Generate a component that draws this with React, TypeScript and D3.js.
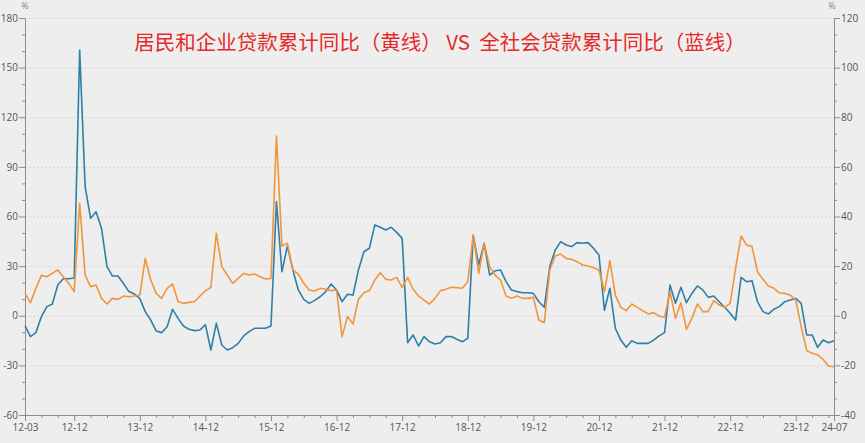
import { useEffect, useRef } from 'react';
import * as d3 from 'd3';

// monthly, 2012-03 .. 2024-07
const startMonth = new Date(2012, 2, 1);
const endMonth = new Date(2024, 7, 1);
const months = d3.timeMonth.range(startMonth, endMonth).map(d3.timeFormat('%y-%m'));

const xTickLabels = ['12-03', '12-12', '13-12', '14-12', '15-12', '16-12', '17-12', '18-12', '19-12', '20-12', '21-12', '22-12', '23-12', '24-07'];
const leftTicks = [-60, -30, 0, 30, 60, 90, 120, 150, 180];
const rightTicks = [-40, -20, 0, 20, 40, 60, 80, 100, 120];

// 居民和企业贷款累计同比（黄线）
const householdCorp = [
  13.5, 7.9, 16.6, 24.4, 23.6, 25.6, 27.7, 23.6, 19.6, 14.6,
  68, 24.6, 17.6, 18.6, 10.5, 7.1, 10.5, 9.9, 11.9, 11.5,
  11.9, 12.5, 34.7, 21.6, 13.5, 10.5, 16.5, 19.2, 8.5, 7.5,
  8.1, 8.5, 11.9, 15.0, 17.2, 49.8, 29.7, 24.6, 19.6, 22.6,
  25.6, 24.6, 25.2, 23.6, 22.2, 22.6, 108.7, 42.2, 43.8, 27.7,
  25.2, 19.6, 15.6, 15, 16.6, 16, 15.2, 15.6, -12.6, -0.5,
  -5.0, 9.9, 13.9, 15.2, 21.6, 26, 22, 21.6, 23.2, 17.2,
  23.2, 16, 11.9, 9.5, 7.1, 10.5, 15.2, 16, 17.2, 17,
  16.6, 20.6, 48.8, 25.6, 43.8, 29.7, 24.6, 21.6, 11.9, 10.5,
  11.9, 10.5, 10.5, 11.1, -2.6, -4.2, 27.7, 36.1, 37.3, 34.7,
  34.1, 32.7, 30.7, 30.1, 29.1, 27.7, 14.6, 33.3, 12.5, 5.1,
  3.1, 7.1, 5.1, 3.1, 1.1, 1.9, -0.2, -1.0, 14.6, -1.6,
  7.9, -8.2, -1.6, 7.1, 2.5, 2.5, 9.1, 6.5, 5.1, 7.5,
  28.7, 48.2, 42.8, 41.8, 26.6, 22, 18, 16.6, 13.9, 13.5,
  12.5, 9.5, -6.6, -21.1, -22.7, -23.7, -26.4, -30.4, -30.8,
];

// 全社会贷款累计同比（蓝线）
const allSociety = [
  -6, -12.6, -10.2, -0.5, 5.5, 7.1, 18.6, 22.4, 22.4, 22.8,
  160.6, 78, 58.9, 62.9, 52.8, 29.7, 24, 24, 19.6, 14.6,
  13.1, 10.5, 2.5, -2.6, -9.2, -10.2, -6.6, 3.9, -1.6, -6.2,
  -8.2, -9.0, -8.6, -5.4, -20.7, -4.6, -17.7, -20.7, -19.3, -16.7,
  -12.2, -9.6, -7.6, -7.6, -7.6, -6.2, 68.9, 26.6, 42.2, 27.7,
  15.6, 9.9, 7.5, 9.3, 11.5, 14.6, 19.2, 15.6, 8.5, 13.0,
  12.5, 27.7, 38.7, 40.8, 54.9, 53.5, 51.8, 53.5, 50.4, 46.8,
  -16.3, -11.6, -18.3, -12.6, -15.7, -17.1, -16.3, -12.6, -12.6, -14.2,
  -15.7, -13.7, 48.8, 30.7, 43.8, 24.6, 27.2, 27.7, 20.6, 15.6,
  14.6, 13.9, 13.9, 13.5, 8.5, 5.1, 29.7, 39.7, 44.8, 42.8,
  41.8, 44.2, 43.8, 44.2, 40.8, 36.7, 3.3, 16.6, -7.6, -14.7,
  -19.1, -15.1, -16.7, -16.7, -16.7, -14.7, -12.2, -10.2, 18.6, 7.5,
  17.2, 7.9, 13.5, 18.0, 15.6, 11.1, 11.9, 8.5, 5.1, 1.5,
  -2.6, 23.2, 20.6, 21.2, 8.5, 2.5, 1.1, 3.9, 5.5, 8.5,
  9.5, 10.5, 7.5, -11.6, -11.6, -19.1, -14.7, -16.3, -15.1,
];

const width = 865;
const height = 443;
const margin = { top: 18, right: 31, bottom: 28, left: 25 };

const App = () => {
  const svgRef = useRef<SVGSVGElement>(null);

  useEffect(() => {
    if (!svgRef.current) return;
    const svg = d3.select(svgRef.current);
    svg.selectAll('*').remove();

    const x = d3.scalePoint<string>()
      .domain(months)
      .range([margin.left, width - margin.right]);
    const yL = d3.scaleLinear().domain([-60, 180]).range([height - margin.bottom, margin.top]);
    const yR = d3.scaleLinear().domain([-40, 120]).range([height - margin.bottom, margin.top]);

    const axisColor = '#8d8d8d';
    const labelColor = '#555';
    const font = '"Open Sans", "Noto Sans", sans-serif';

    svg.append('rect').attr('width', width).attr('height', height).attr('fill', '#eeeeee');

    // grid
    svg.append('g')
      .selectAll('line')
      .data(leftTicks.filter(t => t > -60))
      .join('line')
      .attr('x1', margin.left)
      .attr('x2', width - margin.right)
      .attr('y1', d => yL(d) + 0.5)
      .attr('y2', d => yL(d) + 0.5)
      .attr('stroke', '#d4d4d4')
      .attr('stroke-dasharray', '2,2');

    const styleAxis = (g: d3.Selection<SVGGElement, unknown, null, undefined>) => {
      g.selectAll('path, line').attr('stroke', axisColor);
      g.selectAll('text').attr('fill', labelColor).attr('font-size', '10px').attr('font-family', font);
    };

    // minor ticks
    const leftMinor = d3.range(-60, 181, 10).filter(v => !leftTicks.includes(v));
    svg.append('g')
      .attr('transform', `translate(${margin.left},0)`)
      .call(d3.axisLeft(yL).tickValues(leftMinor).tickSize(3).tickFormat(() => ''))
      .call(g => g.select('.domain').remove())
      .call(styleAxis);

    const rightMinor = d3.range(0, 25).map(k => -40 + (k * 20) / 3).filter((_, k) => k % 3 !== 0);
    svg.append('g')
      .attr('transform', `translate(${width - margin.right},0)`)
      .call(d3.axisRight(yR).tickValues(rightMinor).tickSize(3).tickFormat(() => ''))
      .call(g => g.select('.domain').remove())
      .call(styleAxis);

    const quarterTicks = months.filter((_, i) => i % 3 === 0 && !xTickLabels.includes(months[i]));
    svg.append('g')
      .attr('transform', `translate(0,${height - margin.bottom})`)
      .call(d3.axisBottom(x).tickValues(quarterTicks).tickSize(3).tickFormat(() => ''))
      .call(g => g.select('.domain').remove())
      .call(styleAxis);

    // main axes
    svg.append('g')
      .attr('transform', `translate(${margin.left},0)`)
      .call(d3.axisLeft(yL).tickValues(leftTicks).tickSize(6).tickSizeOuter(0).tickPadding(1).tickFormat(d => String(d)))
      .call(styleAxis);

    svg.append('g')
      .attr('transform', `translate(${width - margin.right},0)`)
      .call(d3.axisRight(yR).tickValues(rightTicks).tickSize(6).tickSizeOuter(0).tickPadding(1).tickFormat(d => String(d)))
      .call(styleAxis);

    svg.append('g')
      .attr('transform', `translate(0,${height - margin.bottom})`)
      .call(d3.axisBottom(x).tickValues(xTickLabels).tickSize(6).tickSizeOuter(0).tickPadding(3))
      .call(styleAxis);

    // unit labels
    [margin.left, width - margin.right - 2].forEach(px => {
      svg.append('text')
        .attr('x', px)
        .attr('y', 9)
        .attr('text-anchor', 'middle')
        .attr('font-size', '9px')
        .attr('font-family', font)
        .attr('fill', '#888')
        .text('%');
    });

    // lines
    const line = d3.line<number>()
      .x((_, i) => x(months[i]) ?? 0)
      .y(d => yL(d));

    svg.append('path')
      .datum(allSociety)
      .attr('d', line)
      .attr('fill', 'none')
      .attr('stroke', '#2f7fa7')
      .attr('stroke-width', 1.6)
      .attr('stroke-linejoin', 'round');

    svg.append('path')
      .datum(householdCorp)
      .attr('d', line)
      .attr('fill', 'none')
      .attr('stroke', '#f0963a')
      .attr('stroke-width', 1.6)
      .attr('stroke-linejoin', 'round');

    // title
    svg.append('text')
      .attr('x', 440)
      .attr('y', 50)
      .attr('text-anchor', 'middle')
      .attr('font-size', '20.5px')
      .attr('font-family', '"Noto Sans CJK SC", sans-serif')
      .attr('fill', '#e62a2a')
      .attr('xml:space', 'preserve')
      .text('居民和企业贷款累计同比（黄线） VS  全社会贷款累计同比（蓝线）');
  }, []);

  return (
    <svg
      ref={svgRef}
      width={width}
      height={height}
      style={{ position: 'absolute', left: 0, top: 0 }}
    />
  );
};

export default App;
